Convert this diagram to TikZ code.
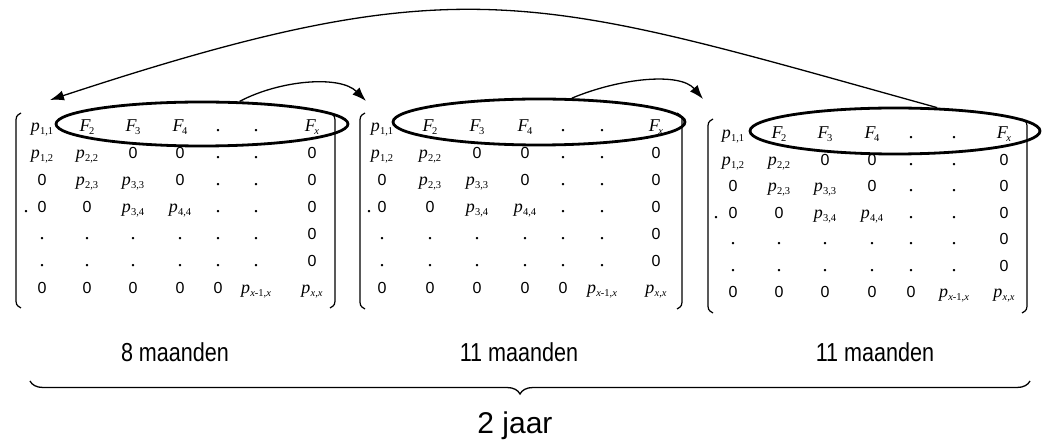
\documentclass[tikz,border=0pt]{standalone}
\usepackage{fontspec}
\usepackage{graphicx}
\setmainfont{Liberation Sans}
\newfontfamily\tms{Liberation Serif}
\usetikzlibrary{shapes.geometric,arrows.meta,decorations.pathreplacing}
\newcommand{\sbs}[1]{\raisebox{-0.3ex}{\fontsize{10.5}{10.5}\selectfont\tms #1}}
\newcommand{\pv}[1]{{\tms\itshape p}\kern0.3pt\sbs{#1}}
\newcommand{\Fv}[1]{{\tms\itshape F}\kern-1.5pt\sbs{#1}}
\newcommand{\vx}{{\itshape x}}
\newcommand{\zr}{{\fontsize{16}{16}\selectfont 0}}
\newcommand{\dt}{{\tms\fontsize{20}{20}\selectfont .}}
\newcommand{\mrow}[9]{%
  \node[ent] (\mn-#1-1) at (\ca,#2) {#3};
  \node[ent] (\mn-#1-2) at (\cb,#2) {#4};
  \node[ent] (\mn-#1-3) at (\cc,#2) {#5};
  \node[ent] (\mn-#1-4) at (\cd,#2) {#6};
  \node[ent] (\mn-#1-5) at (\ce,#2) {#7};
  \node[ent] (\mn-#1-6) at (\cf,#2) {#8};
  \node[ent] (\mn-#1-7) at (\cg,#2) {#9};
}
\newcommand{\fullmat}[8]{%
  \def\mn{#1}%
  \pgfmathsetmacro{\ya}{#2}\pgfmathsetmacro{\yb}{#2+#3}\pgfmathsetmacro{\yc}{#2+2*#3}%
  \pgfmathsetmacro{\yd}{#2+3*#3}\pgfmathsetmacro{\ye}{#2+4*#3}\pgfmathsetmacro{\yf}{#2+5*#3}%
  \pgfmathsetmacro{\yg}{#2+6*#3}%
  \mrow{1}{\ya}{\pv{1,1}}{\Fv{2}}{\Fv{3}}{\Fv{4}}{\dt}{\dt}{\Fv{\vx}}
  \mrow{2}{\yb}{\pv{1,2}}{\pv{2,2}}{\zr}{\zr}{\dt}{\dt}{\zr}
  \mrow{3}{\yc}{\zr}{\pv{2,3}}{\pv{3,3}}{\zr}{\dt}{\dt}{\zr}
  \mrow{4}{\yd}{\zr}{\zr}{\pv{3,4}}{\pv{4,4}}{\dt}{\dt}{\zr}
  \mrow{5}{\ye}{\dt}{\dt}{\dt}{\dt}{\dt}{\dt}{\zr}
  \mrow{6}{\yf}{\dt}{\dt}{\dt}{\dt}{\dt}{\dt}{\zr}
  \mrow{7}{\yg}{\zr}{\zr}{\zr}{\zr}{\zr}{\pv{\vx-1,\vx}}{\pv{\vx,\vx}}
  \node[ent] (\mn-lead) at (#4,\yd) {\dt};
  \draw[par] (#5+5,#7) .. controls (#5,#7+3) .. (#5,#7+11) -- (#5,#8-11) .. controls (#5,#8-3) .. (#5+5,#8);
  \draw[par] (#6-5,#7) .. controls (#6,#7+3) .. (#6,#7+11) -- (#6,#8-11) .. controls (#6,#8-3) .. (#6-5,#8);
}
\tikzset{
  ent/.style={anchor=base, inner sep=0pt, font=\fontsize{18}{18}\selectfont},
  par/.style={line width=1.2pt},
  ell/.style={ellipse, draw, line width=2.8pt, inner sep=0pt},
  conn/.style={line width=1.3pt, -{Latex[length=14pt,width=10pt]}},
  lab/.style={anchor=base, font=\fontsize{26}{26}\selectfont, inner sep=0pt},
  big/.style={anchor=base, font=\fontsize{30}{30}\selectfont, inner sep=0pt},
}
\begin{document}
\begin{tikzpicture}[x=1pt,y=-1pt]
\path[use as bounding box, fill=white] (0,0) rectangle (1045,446);
% matrix 1
\def\ca{42}\def\cb{87}\def\cc{133}\def\cd{180}\def\ce{218}\def\cf{256}\def\cg{312}
\fullmat{a}{132}{27}{26}{16}{335}{113}{308}
% matrix 2
\def\ca{382}\def\cb{430}\def\cc{477}\def\cd{525}\def\ce{563}\def\cf{602}\def\cg{656}
\fullmat{b}{132}{27}{369}{360}{682}{113}{309}
% matrix 3
\def\ca{733}\def\cb{779}\def\cc{825}\def\cd{872}\def\ce{911}\def\cf{954}\def\cg{1004}
\fullmat{c}{139}{26.5}{716}{708}{1027}{119}{313}
% ellipses
\node[ell, minimum width=292pt, minimum height=44pt] (e1) at (202,124) {};
\node[ell, minimum width=292pt, minimum height=46pt] (e2) at (539,122) {};
\node[ell, minimum width=290pt, minimum height=46pt] (e3) at (895,131) {};
% arrow targets
\coordinate (t1) at (50,100);
\coordinate (t2) at (366,101);
\coordinate (t3) at (703,99);
\draw[conn] (e1.31) .. controls (280,80) and (340,75) .. (t2);
\draw[conn] (e2.36) .. controls (620,78) and (680,72) .. (t3);
\draw[conn] (e3.29) .. controls (535,-4) and (466,-37) .. (t1);
% labels
\node[lab] (l1) at (175,362) {\scalebox{0.83}[1]{8 maanden}};
\node[lab] (l2) at (519,362) {\scalebox{0.83}[1]{11 maanden}};
\node[lab] (l3) at (875,362) {\scalebox{0.83}[1]{11 maanden}};
% brace
\coordinate (b1) at (30,381);
\coordinate (b2) at (1030,381);
\draw[line width=1.3pt, decorate, decoration={brace, mirror, amplitude=13pt, aspect=0.49}] (b1) -- (b2);
\node[big] (tot) at (515,434) {2 jaar};
\end{tikzpicture}
\end{document}
